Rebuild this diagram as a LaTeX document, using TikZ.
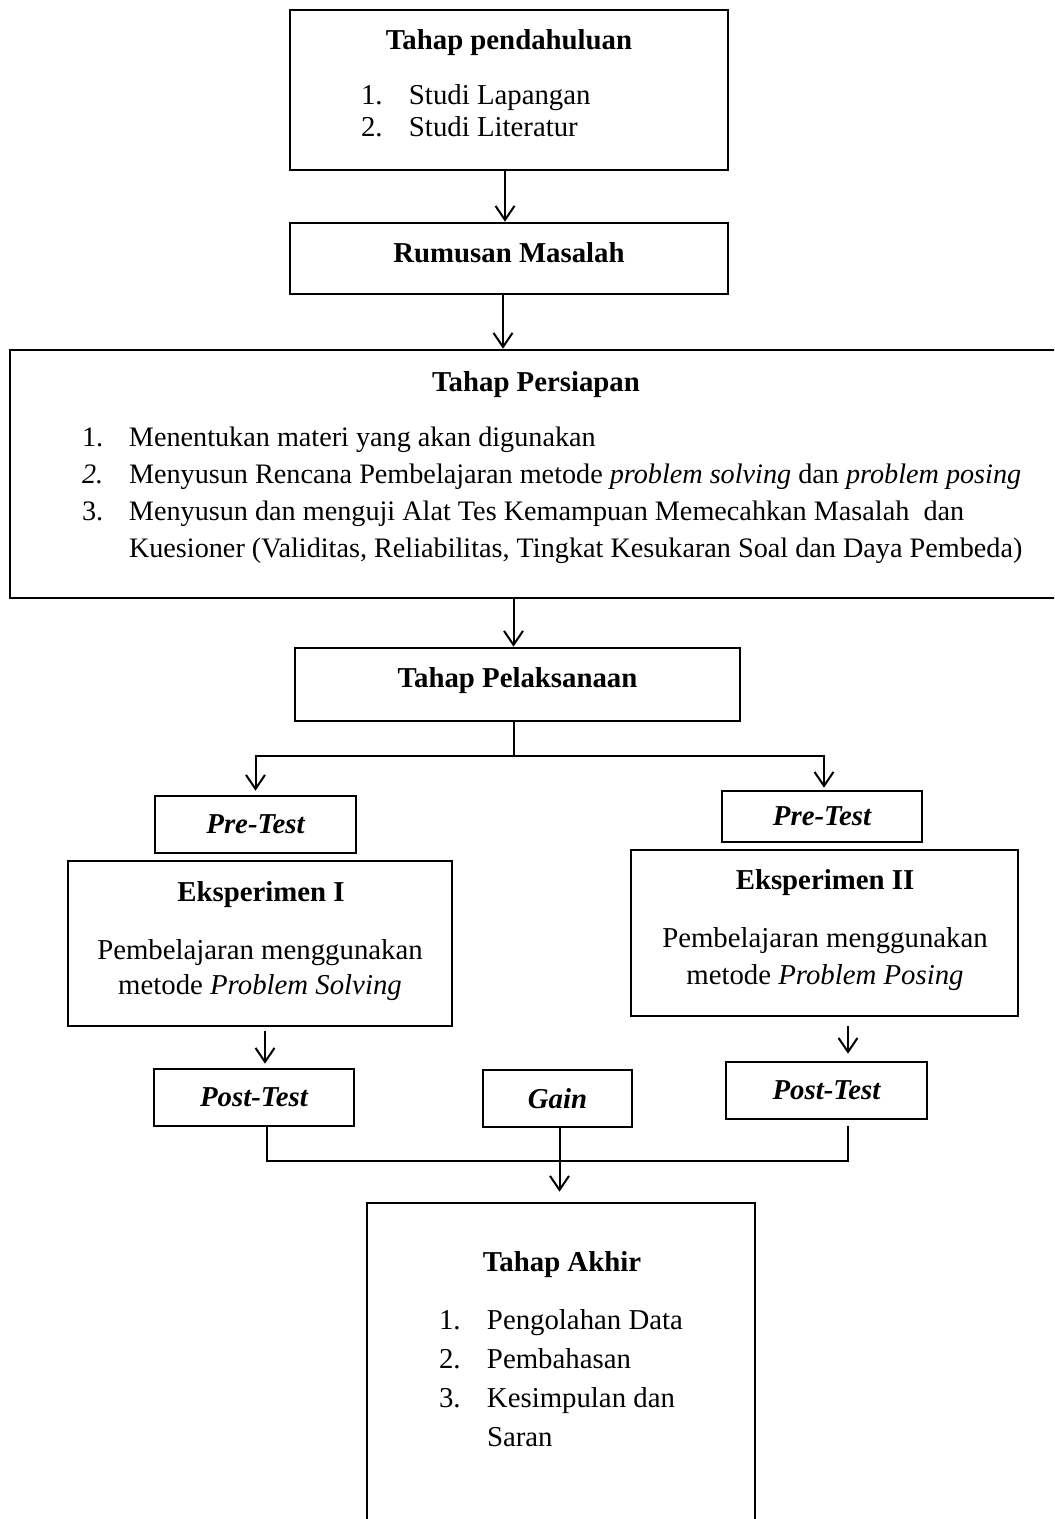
\documentclass[tikz,border=0pt]{standalone}
\usepackage{fontspec}
\setmainfont{Liberation Serif}
\usetikzlibrary{arrows.meta,calc}

\begin{document}
\begin{tikzpicture}[
  x=0.5pt, y=-0.5pt,
  >={Straight Barb[length=7pt,width=9.5pt]},
  line width=1pt,
  box/.style={draw, line width=1.3pt, inner sep=0pt, align=center,
              font=\fontsize{14.4}{17}\selectfont\bfseries},
  testbox/.style={box, font=\fontsize{14.4}{17}\selectfont\bfseries\itshape},
  boxtitle/.style={inner sep=0pt, anchor=base,
                   font=\fontsize{14.4}{17}\selectfont\bfseries},
  listtext/.style={inner sep=0pt, anchor=base west,
                   font=\fontsize{14.4}{#1}\selectfont},
  bodytext/.style={inner sep=0pt, anchor=base,
                   font=\fontsize{14.4}{#1}\selectfont},
]
\clip (0,0) rectangle (1054,1519);
\useasboundingbox (0,0) rectangle (1054,1519);

% --- Tahap pendahuluan + Rumusan Masalah ---
\node[box, minimum width=219pt, minimum height=80pt] (pend) at (509,90) {};
\node[boxtitle] (pendtitle) at (509,49.5) {Tahap pendahuluan};
\node[listtext=16pt] (pendlist) at (360,104.5)
  {\begin{tabular}[t]{@{}p{24pt}@{}l@{}}
   1. & Studi Lapangan\\
   2. & Studi Literatur
   \end{tabular}};
\node[box, minimum width=219pt, minimum height=35.5pt, text depth=6pt] (rum) at (509,258.5) {Rumusan Masalah};

% --- Tahap Persiapan (runs off the right edge) ---
\node[box, minimum width=526pt, minimum height=124pt] (pers) at (536,474) {};
\node[boxtitle] (perstitle) at (536,391.5) {Tahap Persiapan};
\node[listtext=18.5pt, font=\fontsize{14.1}{18.5}\selectfont] (perslist) at (81,446.5)
  {\begin{tabular}[t]{@{}p{23.5pt}@{}l@{}}
   1. & Menentukan materi yang akan digunakan\\
   \textit{2.} & Menyusun Rencana Pembelajaran metode \textit{problem solving} dan \textit{problem posing}\\
   3. & Menyusun dan menguji Alat Tes Kemampuan Memecahkan Masalah\ \ dan\\
      & Kuesioner (Validitas, Reliabilitas, Tingkat Kesukaran Soal dan Daya Pembeda)
   \end{tabular}};

% --- Tahap Pelaksanaan and the two groups ---
\node[box, minimum width=222.5pt, minimum height=36.5pt, text depth=7pt] (pel) at (517.5,684.5) {Tahap Pelaksanaan};

\node[testbox, minimum width=100.5pt, minimum height=28.5pt] (pre1) at (255.5,824.5) {Pre-Test};
\node[testbox, minimum width=100pt, minimum height=25.5pt] (pre2) at (822,816.5) {Pre-Test};

\node[box, minimum width=192pt, minimum height=82.5pt] (eks1) at (260,943.5) {};
\node[boxtitle] (eks1title) at (261,901.5) {Eksperimen I};
\node[bodytext=17.5pt] (eks1text) at (260,959.5)
  {\begin{tabular}[t]{@{}c@{}}
   Pembelajaran menggunakan\\
   metode \textit{Problem Solving}
   \end{tabular}};

\node[box, minimum width=193.5pt, minimum height=83pt] (eks2) at (824.5,933) {};
\node[boxtitle] (eks2title) at (825,889.5) {Eksperimen II};
\node[bodytext=18.5pt] (eks2text) at (825,947.5)
  {\begin{tabular}[t]{@{}c@{}}
   Pembelajaran menggunakan\\
   metode \textit{Problem Posing}
   \end{tabular}};

\node[testbox, minimum width=100pt, minimum height=28.5pt] (post1) at (254,1097.5) {Post-Test};
\node[testbox, minimum width=74.5pt, minimum height=28.5pt] (gain) at (557.5,1098.5) {Gain};
\node[testbox, minimum width=100.5pt, minimum height=28.5pt] (post2) at (826.5,1090.5) {Post-Test};

% --- Tahap Akhir (runs off the bottom edge) ---
\node[box, minimum width=194pt, minimum height=168.5pt] (akhir) at (561,1371.5) {};
\node[boxtitle] (akhirtitle) at (562,1271.5) {Tahap Akhir};
\node[listtext=19.5pt] (akhirlist) at (438,1329.5)
  {\begin{tabular}[t]{@{}p{24pt}@{}l@{}}
   1. & Pengolahan Data\\
   2. & Pembahasan\\
   3. & Kesimpulan dan\\
      & Saran
   \end{tabular}};

% --- Connectors ---
\draw[->] ([xshift=-2pt]pend.south) -- ([xshift=-2pt]rum.north);
\draw[->] ([xshift=-3pt]rum.south) -- ([xshift=-3pt]rum.south |- pers.north);
\draw[->] ([xshift=-2pt]pel.north |- pers.south) -- ([xshift=-2pt]pel.north);

% split into the two groups
\coordinate (split) at ($([xshift=-2pt]pel.south)+(0,34)$);
\draw ([xshift=-2pt]pel.south) -- (split);
\draw[->, shorten >=2pt] (split) -| (pre1.north);
\draw[->, shorten >=1pt] (split) -| ([xshift=1pt]pre2.north);

\draw[->, shorten <=2pt, shorten >=2pt]
  ([xshift=5.5pt]post1.north |- eks1.south) -- ([xshift=5.5pt]post1.north);
\draw[->, shorten <=4.5pt, shorten >=3.5pt]
  ([xshift=10.75pt]post2.north |- eks2.south) -- ([xshift=10.75pt]post2.north);

% merge into Tahap Akhir
\coordinate (join) at ($([xshift=1pt]gain.south)+(0,33)$);
\draw ([xshift=6.5pt]post1.south) |- (join);
\draw[shorten <=3pt] ([xshift=10.75pt]post2.south) |- (join);
\draw[->, shorten >=5pt] ([xshift=1pt]gain.south) -- ([xshift=1pt]gain.south |- akhir.north);
\end{tikzpicture}
\end{document}
